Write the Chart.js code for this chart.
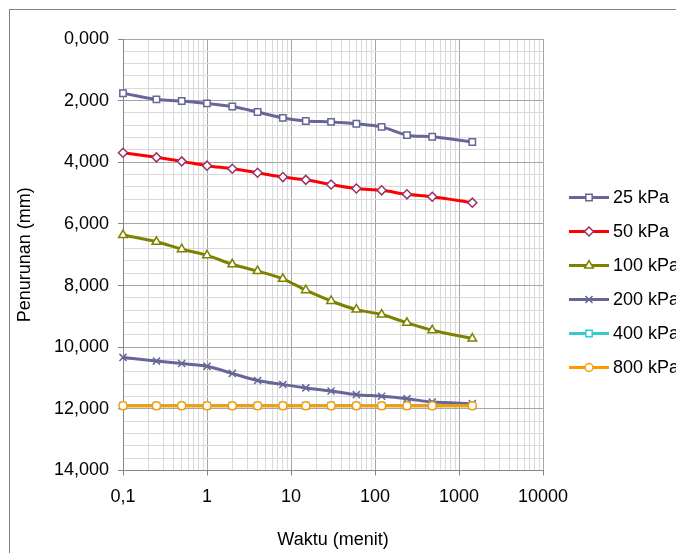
<!DOCTYPE html>
<html>
<head>
<meta charset="utf-8">
<script src="https://cdn.jsdelivr.net/npm/chart.js@4/dist/chart.umd.min.js"></script>
<style>
  body { margin: 0; background: #fff; }
  canvas { display: block; }
</style>
</head>
<body>
<canvas id="settle" width="676" height="553"></canvas>
<script>
// ---- data ----
const TIME = [0.1, 0.25, 0.5, 1, 2, 4, 8, 15, 30, 60, 120, 240, 480, 1440]; // menit
const LABELS = ['25 kPa', '50 kPa', '100 kPa', '200 kPa', '400 kPa', '800 kPa'];
const P25  = [1.76, 1.96, 2.01, 2.09, 2.19, 2.37, 2.56, 2.66, 2.69, 2.75, 2.85, 3.12, 3.17, 3.34];
const P50  = [3.69, 3.84, 3.97, 4.11, 4.21, 4.34, 4.48, 4.57, 4.72, 4.85, 4.91, 5.04, 5.12, 5.31];
const P100 = [6.36, 6.58, 6.82, 7.02, 7.31, 7.53, 7.78, 8.15, 8.50, 8.78, 8.94, 9.21, 9.45, 9.72];
const P200 = [10.33, 10.45, 10.53, 10.62, 10.85, 11.08, 11.21, 11.32, 11.42, 11.54, 11.59, 11.67, 11.78, 11.83];
const P400 = [11.90, 11.90, 11.90, 11.90, 11.90, 11.90, 11.90, 11.90, 11.90, 11.90, 11.90, 11.90, 11.90, 11.90];
const P800 = [11.90, 11.90, 11.90, 11.90, 11.90, 11.90, 11.90, 11.90, 11.90, 11.90, 11.90, 11.90, 11.90, 11.90];
const DECADES = [0.1, 1, 10, 100, 1000, 10000]; // labelled x ticks
const X_STEPS = [1, 2, 3, 4, 5, 6, 7, 8, 9];   // minor log gridlines per decade
const Y_MIN = 0, Y_MAX = 14, Y_STEP = 0.4, Y_MAJOR = 2;

const FONT = 'Arial, "Liberation Sans", sans-serif';
const FS = 18;

// styling per series (colour, marker)
const STYLES = [
  { line: '#666699', mark: '#666699', shape: 'rect',     r: 4.5 },
  { line: '#ff0000', mark: '#993366', shape: 'rectRot',  r: 4.5 },
  { line: '#808000', mark: '#808000', shape: 'triangle', r: 5 },
  { line: '#666699', mark: '#666699', shape: 'crossRot', r: 5 },
  { line: '#33cccc', mark: '#33cccc', shape: 'rect',     r: 4.5 },
  { line: '#ff9900', mark: '#ff9900', shape: 'circle',   r: 4 }
];

const SERIES = [P25, P50, P100, P200, P400, P800];

const datasets = SERIES.map((vals, i) => ({
  label: LABELS[i],
  data: TIME.map((t, k) => ({ x: t, y: vals[k] })),
  borderColor: STYLES[i].line,
  borderWidth: 3,
  tension: 0.3,
  pointStyle: STYLES[i].shape,
  pointRadius: STYLES[i].r,
  pointBackgroundColor: '#ffffff',
  pointBorderColor: STYLES[i].mark,
  pointBorderWidth: 1.5,
  clip: false,
  order: -i
}));

const isMajorY = v => Math.abs(v / Y_MAJOR - Math.round(v / Y_MAJOR)) < 1e-6;
const isDecade = v => Math.abs(Math.log10(v) - Math.round(Math.log10(v))) < 1e-6;

// outer frame like the spreadsheet chart
const framePlugin = {
  id: 'frame',
  beforeDraw(chart) {
    const c = chart.ctx;
    c.save();
    c.fillStyle = '#fff';
    c.fillRect(0, 0, chart.width, chart.height);
    c.strokeStyle = '#808080';
    c.lineWidth = 1;
    c.strokeRect(9.5, 9.5, chart.width, chart.height);
    c.restore();
  }
};

// legend: line with marker in the middle, text to the right
const legendPlugin = {
  id: 'lineLegend',
  afterDraw(chart) {
    const c = chart.ctx;
    c.save();
    chart.data.datasets.forEach((ds, i) => {
      const y = 197.5 + i * 34;
      c.strokeStyle = ds.borderColor;
      c.lineWidth = 3;
      c.beginPath();
      c.moveTo(569, y);
      c.lineTo(609, y);
      c.stroke();
      c.fillStyle = '#fff';
      c.strokeStyle = ds.pointBorderColor;
      c.lineWidth = 1.5;
      Chart.helpers.drawPoint(c, { pointStyle: ds.pointStyle, radius: ds.pointRadius, rotation: 0, borderWidth: 1.5 }, 589, y);
      c.fillStyle = '#000';
      c.font = FS + 'px ' + FONT;
      c.textBaseline = 'middle';
      c.textAlign = 'left';
      c.fillText(ds.label, 613, y + 1);
    });
    c.restore();
  }
};

new Chart(document.getElementById('settle'), {
  type: 'line',
  data: { datasets },
  plugins: [framePlugin, legendPlugin],
  options: {
    responsive: false,
    animation: false,
    layout: { padding: { top: 39, right: 133, left: 0, bottom: 0 } },
    plugins: { legend: { display: false }, tooltip: { enabled: false } },
    scales: {
      x: {
        type: 'logarithmic',
        min: 0.1,
        max: 10000,
        afterBuildTicks(scale) {
          const ticks = [];
          DECADES.slice(0, -1).forEach(d => X_STEPS.forEach(s => ticks.push({ value: +(d * s).toPrecision(6) })));
          ticks.push({ value: DECADES[DECADES.length - 1] });
          scale.ticks = ticks;
        },
        afterFit(scale) { scale.height = 82.5; },
        grid: {
          color: ctx => isDecade(ctx.tick.value) ? '#a6a6a6' : '#d9d9d9',
          tickColor: ctx => isDecade(ctx.tick.value) ? '#868686' : 'rgba(0,0,0,0)',
          tickLength: 5,
          lineWidth: 1
        },
        border: { color: '#868686', width: 1 },
        ticks: {
          autoSkip: false,
          maxRotation: 0,
          padding: 11,
          color: '#000',
          font: { family: FONT, size: FS },
          callback: v => isDecade(v) ? (v < 1 ? String(v).replace('.', ',') : String(Math.round(v))) : ''
        },
        title: {
          display: true,
          text: 'Waktu (menit)',
          color: '#000',
          font: { family: FONT, size: FS },
          padding: { top: 0, bottom: 2 }
        }
      },
      y: {
        type: 'linear',
        reverse: true,
        min: Y_MIN,
        max: Y_MAX,
        afterFit(scale) { scale.width = 123; },
        grid: {
          color: ctx => isMajorY(ctx.tick.value) ? '#a6a6a6' : '#d9d9d9',
          tickColor: ctx => isMajorY(ctx.tick.value) ? '#868686' : 'rgba(0,0,0,0)',
          tickLength: 5,
          lineWidth: 1
        },
        border: { color: '#868686', width: 1 },
        ticks: {
          stepSize: Y_STEP,
          autoSkip: false,
          padding: 9,
          color: '#000',
          font: { family: FONT, size: FS },
          callback: v => isMajorY(v) ? Number(v).toFixed(3).replace('.', ',') : ''
        },
        title: {
          display: true,
          text: 'Penurunan (mm)',
          color: '#000',
          font: { family: FONT, size: FS },
          padding: { top: 14, bottom: 0 }
        }
      }
    }
  }
});
</script>
</body>
</html>
